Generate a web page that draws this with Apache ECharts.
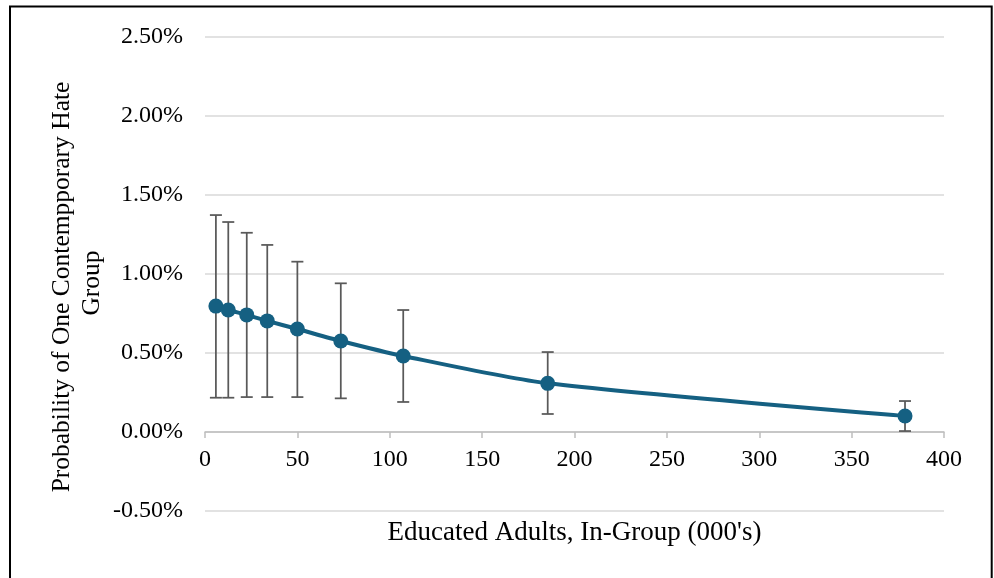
<!DOCTYPE html>
<html>
<head>
<meta charset="utf-8">
<script src="https://cdn.jsdelivr.net/npm/echarts@6/dist/echarts.min.js"></script>
<style>html,body{margin:0;padding:0;background:#fff}#c{width:994px;height:578px}</style>
</head>
<body>
<div id="c"></div>
<script>
// Data (x in thousands, y in percent)
var xVals = [5.9, 12.6, 22.6, 33.7, 50.0, 73.5, 107.3, 185.5, 378.9];
var yVals = [0.797, 0.772, 0.741, 0.703, 0.652, 0.576, 0.481, 0.308, 0.101];
var lowVals = [0.217, 0.217, 0.221, 0.221, 0.221, 0.213, 0.190, 0.114, 0.006];
var highVals = [1.373, 1.329, 1.261, 1.184, 1.078, 0.941, 0.772, 0.506, 0.196];
var yTicksFormat = function (v) { return v.toFixed(2) + '%'; };

var lineData = xVals.map(function (x, i) { return [x, yVals[i]]; });
var errData = xVals.map(function (x, i) { return [x, lowVals[i], highVals[i]]; });

var FONT = '"Liberation Serif", "Times New Roman", serif';
var chart = echarts.init(document.getElementById('c'), null, { renderer: 'canvas' });
chart.setOption({
  animation: false,
  backgroundColor: '#fff',
  grid: { left: 205, right: 50, top: 37, bottom: 67, containLabel: false },
  xAxis: {
    type: 'value', min: 0, max: 400, interval: 50,
    offset: -79,
    axisLine: { onZero: false, lineStyle: { color: '#bfbfbf', width: 1.5 } },
    axisTick: { show: true, length: 6, lineStyle: { color: '#bfbfbf', width: 1.5 } },
    axisLabel: { color: '#000', fontFamily: FONT, fontSize: 24, margin: 16 },
    splitLine: { show: false }
  },
  yAxis: {
    type: 'value', min: -0.5, max: 2.5, interval: 0.5,
    axisLine: { show: false },
    axisTick: { show: false },
    axisLabel: { color: '#000', fontFamily: FONT, fontSize: 24, margin: 22, formatter: yTicksFormat },
    splitLine: { lineStyle: { color: '#d9d9d9', width: 1.5 } }
  },
  graphic: [
    { type: 'rect', shape: { x: 10, y: 6.5, width: 981.7, height: 620 },
      style: { fill: 'none', stroke: '#000', lineWidth: 2 }, silent: true, z: 100 },
    { type: 'text', x: 574.5, y: 533, style: { text: "Educated Adults, In-Group (000's)",
      font: '27px ' + FONT, fill: '#000', textAlign: 'center', textVerticalAlign: 'middle' } },
    { type: 'text', x: 62, y: 287, rotation: Math.PI / 2, style: { text: 'Probability of One Contempporary Hate',
      font: '25.5px ' + FONT, fill: '#000', textAlign: 'center', textVerticalAlign: 'middle' } },
    { type: 'text', x: 92, y: 283, rotation: Math.PI / 2, style: { text: 'Group',
      font: '25.5px ' + FONT, fill: '#000', textAlign: 'center', textVerticalAlign: 'middle' } }
  ],
  series: [
    {
      type: 'custom', z: 1,
      data: errData,
      encode: { x: 0, y: [1, 2] },
      renderItem: function (params, api) {
        var x = api.value(0);
        var lo = api.coord([x, api.value(1)]);
        var hi = api.coord([x, api.value(2)]);
        var st = { stroke: '#595959', lineWidth: 1.75 };
        var w = 6;
        return { type: 'group', children: [
          { type: 'line', shape: { x1: hi[0], y1: hi[1], x2: lo[0], y2: lo[1] }, style: st },
          { type: 'line', shape: { x1: hi[0] - w, y1: hi[1], x2: hi[0] + w, y2: hi[1] }, style: st },
          { type: 'line', shape: { x1: lo[0] - w, y1: lo[1], x2: lo[0] + w, y2: lo[1] }, style: st }
        ] };
      }
    },
    {
      type: 'line', z: 5,
      data: lineData,
      smooth: 0.25,
      symbol: 'circle', symbolSize: 15,
      lineStyle: { color: '#156082', width: 4 },
      itemStyle: { color: '#156082' }
    }
  ]
});
</script>
</body>
</html>
